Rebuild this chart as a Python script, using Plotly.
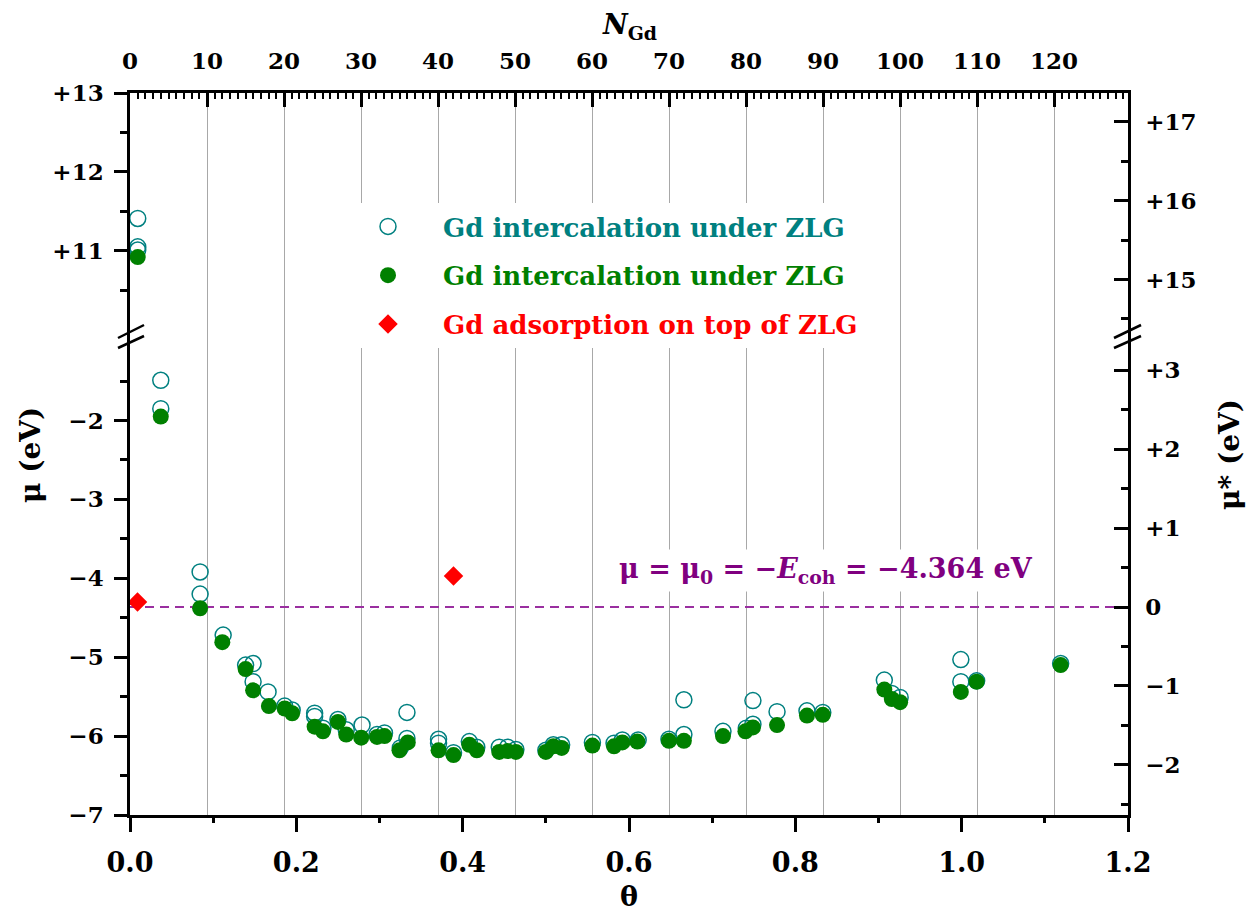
import numpy as np
import plotly.graph_objects as go

# ---------------- data ----------------
E_COH = 4.364            # cohesive energy (eV); mu0 = -E_coh
MU0 = -E_COH
N_PER_THETA = 108        # N_Gd = 108 * theta (top axis)

theta_open = [0.0093, 0.0093, 0.0093, 0.037, 0.037, 0.0843, 0.0843, 0.112,
              0.139, 0.148, 0.148, 0.166, 0.186, 0.195, 0.222, 0.222, 0.232,
              0.250, 0.260, 0.279, 0.297, 0.306, 0.325, 0.333, 0.333, 0.371,
              0.371, 0.389, 0.408, 0.417, 0.444, 0.454, 0.464, 0.500, 0.509,
              0.519, 0.556, 0.582, 0.592, 0.611, 0.648, 0.666, 0.666, 0.713,
              0.741, 0.749, 0.749, 0.778, 0.814, 0.833, 0.907, 0.916, 0.926,
              0.999, 0.999, 1.018, 1.119]
mu_open = [11.41, 11.05, 11.01, -1.49, -1.85, -3.92, -4.20, -4.72,
           -5.10, -5.08, -5.31, -5.44, -5.62, -5.67, -5.71, -5.75, -5.90,
           -5.79, -5.92, -5.86, -5.98, -5.96, -6.15, -5.70, -6.03, -6.04,
           -6.09, -6.21, -6.07, -6.14, -6.14, -6.14, -6.17, -6.18, -6.11,
           -6.11, -6.08, -6.09, -6.05, -6.05, -6.04, -5.54, -5.98, -5.94,
           -5.90, -5.55, -5.85, -5.69, -5.68, -5.70, -5.29, -5.46, -5.51,
           -5.03, -5.31, -5.30, -5.08]

theta_fill = [0.0093, 0.037, 0.0843, 0.111, 0.139, 0.148, 0.167, 0.186,
              0.195, 0.222, 0.232, 0.250, 0.260, 0.278, 0.297, 0.306, 0.324,
              0.334, 0.371, 0.389, 0.408, 0.417, 0.444, 0.454, 0.464, 0.500,
              0.509, 0.519, 0.556, 0.582, 0.592, 0.610, 0.648, 0.666, 0.713,
              0.740, 0.749, 0.778, 0.814, 0.833, 0.907, 0.916, 0.926, 0.999,
              1.018, 1.119]
mu_fill = [10.92, -1.95, -4.38, -4.81, -5.15, -5.42, -5.62, -5.65,
           -5.71, -5.88, -5.94, -5.82, -5.98, -6.02, -6.01, -6.00, -6.18,
           -6.08, -6.18, -6.24, -6.11, -6.18, -6.20, -6.19, -6.20, -6.20,
           -6.13, -6.15, -6.12, -6.13, -6.08, -6.07, -6.06, -6.06, -6.00,
           -5.94, -5.89, -5.86, -5.74, -5.73, -5.41, -5.53, -5.57, -5.44,
           -5.31, -5.10]

theta_ads = [0.009, 0.389]
mu_ads = [-4.30, -3.97]

x_ticks = [0.0, 0.2, 0.4, 0.6, 0.8, 1.0, 1.2]
x_minor_ticks = [0.1, 0.3, 0.5, 0.7, 0.9, 1.1]
n_ticks = list(range(0, 121, 10))
n_grid = list(range(10, 121, 10))
low_ticks = [-7, -6, -5, -4, -3, -2]
low_labels = ["\u22127", "\u22126", "\u22125", "\u22124", "\u22123", "\u22122"]
up_ticks = [11, 12, 13]
up_labels = ["+11", "+12", "+13"]
rlow_ticks = [-2, -1, 0, 1, 2, 3]
rlow_labels = ["\u22122", "\u22121", "0", "+1", "+2", "+3"]
rup_ticks = [15, 16, 17]
rup_labels = ["+15", "+16", "+17"]

# ---------------- style / geometry ----------------
TEAL = "#008080"
GREEN = "#008000"
RED = "#ff0000"
PURPLE = "#800080"
FONT = "DejaVu Serif"
PAGE_OFF = 8                         # default body margin of the html page
W, H = 1257 - 2 * PAGE_OFF, 922 - 2 * PAGE_OFF
X0_SCR, X1_SCR, Y0_SCR, Y1_SCR = 130, 1128, 93, 815   # plot area on screen
ML = X0_SCR - PAGE_OFF
MT = Y0_SCR - PAGE_OFF
PW, PH = X1_SCR - X0_SCR, Y1_SCR - Y0_SCR
MR = W - ML - PW
MB = H - MT - PH
BREAK_PX = 337 - Y0_SCR
PX_PER_EV = 78.9
Y_MAX_UP = 13.0
Y_MIN_LOW = -7.0
BREAK_HIGH = Y_MAX_UP - BREAK_PX / PX_PER_EV
BREAK_LOW = Y_MIN_LOW + (PH - BREAK_PX) / PX_PER_EV
SPLIT = 1 - BREAK_PX / PH
X_MAX = 1.2


def px(xs, ys):
    """screen pixel -> paper fraction"""
    return (xs - X0_SCR) / PW, (Y1_SCR - ys) / PH


to = np.array(theta_open); mo = np.array(mu_open)
tf = np.array(theta_fill); mf = np.array(mu_fill)
up_o, up_f = mo > 5, mf > 5

fig = go.Figure()
fig.add_trace(go.Scatter(x=[0, X_MAX], y=[MU0, MU0], mode="lines",
                         line=dict(color="#9a2fa0", width=1.8, dash="9px,6px"),
                         showlegend=False, hoverinfo="skip", xaxis="x", yaxis="y"))

lab_open = f'<span style="color:{TEAL}">Gd intercalation under ZLG</span>'
lab_fill = f'<span style="color:{GREEN}">Gd intercalation under ZLG</span>'
lab_ads = f'<span style="color:{RED}">Gd adsorption on top of ZLG</span>'

mk_open = dict(symbol="circle-open", size=16, color=TEAL, line=dict(width=1.5, color=TEAL))
mk_fill = dict(symbol="circle", size=16, color=GREEN)
fig.add_trace(go.Scatter(x=to[~up_o], y=mo[~up_o], mode="markers", marker=mk_open,
                         name=lab_open, legendgroup="a", xaxis="x", yaxis="y"))
fig.add_trace(go.Scatter(x=to[up_o], y=mo[up_o], mode="markers", marker=mk_open,
                         name=lab_open, legendgroup="a", showlegend=False, xaxis="x", yaxis="y2"))
fig.add_trace(go.Scatter(x=tf[~up_f], y=mf[~up_f], mode="markers", marker=mk_fill,
                         name=lab_fill, legendgroup="b", xaxis="x", yaxis="y"))
fig.add_trace(go.Scatter(x=tf[up_f], y=mf[up_f], mode="markers", marker=mk_fill,
                         name=lab_fill, legendgroup="b", showlegend=False, xaxis="x", yaxis="y2"))
fig.add_trace(go.Scatter(x=theta_ads, y=mu_ads, mode="markers",
                         marker=dict(symbol="diamond", size=15, color=RED),
                         name=lab_ads, legendgroup="c", xaxis="x", yaxis="y"))

ghost = dict(mode="markers", marker=dict(opacity=0, size=1), showlegend=False, hoverinfo="skip")
fig.add_trace(go.Scatter(x=[0.6], y=[0], xaxis="x", yaxis="y4", **ghost))
fig.add_trace(go.Scatter(x=[0.6], y=[16], xaxis="x", yaxis="y3", **ghost))
fig.add_trace(go.Scatter(x=[60], y=[12], xaxis="x2", yaxis="y2", **ghost))
fig.add_trace(go.Scatter(x=[0.6], y=[-5], xaxis="x3", yaxis="y", **ghost))

tickfont = dict(family=FONT, size=23, color="black", weight="bold")
axline = dict(showline=True, linecolor="black", linewidth=2.5, zeroline=False,
              showgrid=False, tickcolor="black", tickwidth=2.5)

fig.update_layout(
    width=W, height=H,
    margin=dict(l=ML, r=MR, t=MT, b=MB),
    plot_bgcolor="white", paper_bgcolor="white",
    font=dict(family=FONT, color="black"),
    xaxis=dict(domain=[0, 1], range=[0, X_MAX], anchor="y", side="bottom",
               tickmode="array", tickvals=x_ticks, ticktext=[f"{v:.1f}" for v in x_ticks],
               ticks="outside", ticklen=14, ticklabelstandoff=8,
               tickfont=dict(family=FONT, size=27, color="black", weight="bold"),
               minor=dict(tickmode="array", tickvals=[n / N_PER_THETA for n in n_grid],
                          showgrid=True, gridcolor="#a8a8a8", gridwidth=1, ticks=""),
               **axline),
    xaxis3=dict(overlaying="x", anchor="y", side="bottom", range=[0, X_MAX],
                tickmode="array", tickvals=x_minor_ticks, ticks="outside", ticklen=7,
                tickwidth=2.5, tickcolor="black", showticklabels=False,
                showline=False, showgrid=False, zeroline=False),
    xaxis2=dict(overlaying="x", anchor="y2", side="top", range=[0, X_MAX * N_PER_THETA],
                tickmode="array", tickvals=n_ticks, ticks="inside", ticklen=14,
                ticklabelstandoff=12, tickfont=tickfont,
                minor=dict(dtick=1, tick0=0, ticks="inside", ticklen=6, tickwidth=1.8,
                           tickcolor="black", showgrid=False),
                **axline),
    yaxis=dict(domain=[0, SPLIT], range=[Y_MIN_LOW, BREAK_LOW], anchor="x", side="left",
               tickmode="array", tickvals=low_ticks, ticktext=low_labels,
               ticks="outside", ticklen=13, ticklabelstandoff=6, tickfont=tickfont,
               minor=dict(tickmode="array", tickvals=[v + 0.5 for v in low_ticks],
                          ticks="outside", ticklen=7, tickwidth=2.5, tickcolor="black"),
               **axline),
    yaxis2=dict(domain=[SPLIT, 1], range=[BREAK_HIGH, Y_MAX_UP], anchor="x", side="left",
                tickmode="array", tickvals=up_ticks, ticktext=up_labels,
                ticks="outside", ticklen=13, ticklabelstandoff=6, tickfont=tickfont,
                minor=dict(tickmode="array", tickvals=[v - 0.5 for v in up_ticks],
                           ticks="outside", ticklen=7, tickwidth=2.5, tickcolor="black"),
                **axline),
    yaxis3=dict(overlaying="y2", anchor="x", side="right",
                range=[BREAK_HIGH + E_COH, Y_MAX_UP + E_COH],
                tickmode="array", tickvals=rup_ticks, ticktext=rup_labels,
                ticks="inside", ticklen=14, ticklabelstandoff=10, tickfont=tickfont,
                minor=dict(tickmode="array", tickvals=[v - 0.5 for v in rup_ticks],
                           ticks="inside", ticklen=7, tickwidth=2.5, tickcolor="black"),
                **axline),
    yaxis4=dict(overlaying="y", anchor="x", side="right",
                range=[Y_MIN_LOW + E_COH, BREAK_LOW + E_COH],
                tickmode="array", tickvals=rlow_ticks, ticktext=rlow_labels,
                ticks="inside", ticklen=14, ticklabelstandoff=10, tickfont=tickfont,
                minor=dict(tickmode="array", tickvals=[v - 0.5 for v in rlow_ticks],
                           ticks="inside", ticklen=7, tickwidth=2.5, tickcolor="black"),
                **axline),
    legend=dict(x=px(333, 0)[0], y=px(0, 203)[1], xanchor="left", yanchor="top",
                bgcolor="white", borderwidth=0, itemwidth=100, tracegroupgap=12,
                font=dict(family=FONT, size=26, weight="bold")),
)

# axis-break marks
for xa, xb in [(118, 144), (1114, 1141)]:
    for ya, yb in [(338, 325), (348, 336)]:
        x0, y0 = px(xa, ya); x1, y1 = px(xb, yb)
        fig.add_shape(type="line", xref="paper", yref="paper", x0=x0, y0=y0, x1=x1, y1=y1,
                      line=dict(color="black", width=2.5))

titlefont = dict(family=FONT, size=28, color="black", weight="bold")
annots = [
    dict(text="\u03bc (eV)", x=px(30, 0)[0], y=px(0, 455)[1], textangle=-90, font=titlefont),
    dict(text="\u03bc* (eV)", x=px(1229, 0)[0], y=px(0, 455)[1], textangle=-90, font=titlefont),
    dict(text="\u03b8", x=0.5, y=px(0, 896)[1], font=dict(titlefont, size=27)),
    dict(text="<i>N</i><sub>Gd</sub>", x=0.5, y=px(0, 27)[1], font=dict(titlefont, size=27)),
    dict(text="\u03bc = \u03bc<sub>0</sub> = \u2212<i>E</i><sub>coh</sub> = \u22124.364 eV",
         x=px(826, 0)[0], y=px(0, 570)[1], bgcolor="white", borderpad=3,
         font=dict(family=FONT, size=27, color=PURPLE, weight="bold")),
]
for a in annots:
    fig.add_annotation(xref="paper", yref="paper", showarrow=False,
                       xanchor="center", yanchor="middle", **a)

fig.write_html("out.html")
